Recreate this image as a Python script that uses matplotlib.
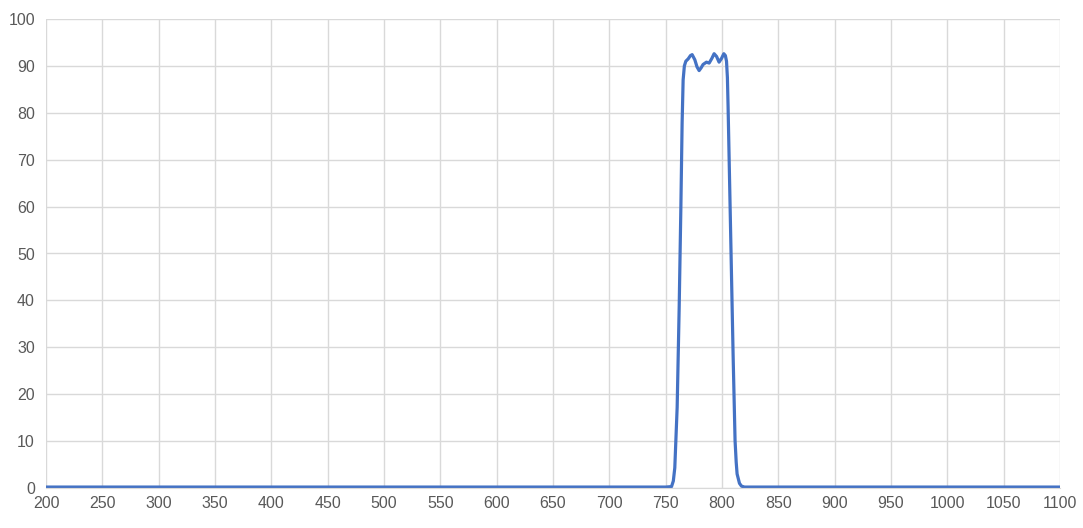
import matplotlib
matplotlib.use("Agg")
import matplotlib.pyplot as plt

wavelength = [200, 750, 755.2, 756.8, 758.1, 760.2, 762.0, 763.5, 764.6, 765.5, 766.6, 767.9, 770.0,
              772.0, 773.5, 775.9, 777.8, 779.7, 781.5, 783.2, 786.2, 788.6, 791.0, 793.0, 795.2,
              797.4, 799.6, 801.6, 803.0, 804.0, 804.8, 805.4, 806.9, 808.4, 809.9, 811.6, 812.6,
              813.4, 815.5, 817.3, 820, 1100]
transmission = [0.2, 0.2, 0.3, 1.5, 4.3, 17.2, 38.6, 60.0, 77.8, 87.0, 90.0, 91.0, 91.5,
                92.2, 92.4, 91.3, 89.8, 89.0, 89.6, 90.3, 90.8, 90.6, 91.6, 92.6, 92.0,
                90.8, 91.6, 92.6, 92.2, 91.0, 87.5, 81.3, 63.5, 45.7, 27.9, 10.1, 5.5,
                3.0, 1.0, 0.4, 0.2, 0.2]

x_ticks = list(range(200, 1101, 50))
y_ticks = list(range(0, 101, 10))

plt.rcParams['font.family'] = ['Liberation Sans', 'DejaVu Sans']

fig = plt.figure(figsize=(10.83, 5.28), dpi=100)
ax = fig.add_axes([46/1083, 40/528, (1060-46)/1083, (488-19)/528])

ax.plot(wavelength, transmission, color='#4472C4', linewidth=2.3,
        solid_joinstyle='round', solid_capstyle='round')

ax.set_xlim(200, 1100)
ax.set_ylim(0, 100)
ax.set_xticks(x_ticks)
ax.set_yticks(y_ticks)
ax.grid(True, color='#D9D9D9', linewidth=1.0)
ax.set_axisbelow(True)
for s in ['top', 'right', 'left']:
    ax.spines[s].set_visible(False)
ax.spines['bottom'].set_color('#D9D9D9')
ax.tick_params(axis='both', length=0, labelsize=11.5, colors='#595959', pad=8)
ax.tick_params(axis='x', pad=6)

fig.savefig('out.png', dpi=100)
